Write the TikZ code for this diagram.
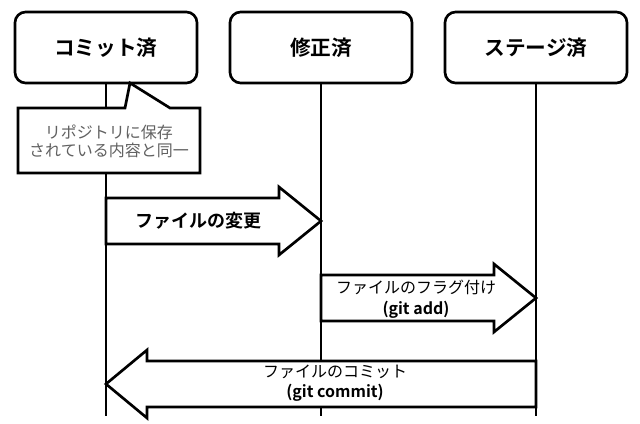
\documentclass[tikz,border=0pt]{standalone}
\usepackage{fontspec}
\setmainfont{Noto Sans CJK JP}[BoldFont={Noto Sans CJK JP Bold}]
\usepackage{tikz}
\usetikzlibrary{calc,positioning}

\tikzset{
	state/.style={draw,line width=2pt,rounded corners=8pt,fill=white,
		minimum width=136.5pt,minimum height=53.25pt,inner sep=0pt,outer sep=0pt,
		font=\bfseries\fontsize{15.5}{18}\selectfont},
	life/.style={line width=2pt},
	note/.style={draw,line width=2pt,fill=white,line join=miter},
	notetext/.style={align=center,text=black!62,inner sep=0pt,
		font=\fontsize{12}{13.5}\selectfont},
	blockarrow/.style={draw,line width=2pt,fill=white,line join=miter},
	lbl/.style={align=center,inner sep=0pt,font=\fontsize{12}{16}\selectfont}
}

\begin{document}
\begin{tikzpicture}[x=0.75pt,y=-0.75pt]
		\useasboundingbox (0,0) rectangle (640,424);
		\node[state] (commit) at (106,47.5) {コミット済};
		\node[state,right=24.75pt of commit] (modified) {修正済};
		\node[state,right=24.75pt of modified] (staged) {ステージ済};
		\coordinate (bottom) at (0,416);
		\foreach \n in {commit,modified,staged}
		\draw[life] (\n.south) -- (\n.south |- bottom);
		% callout
		\draw[note] (18,108) -- (125,108) -- ($(commit.south)+(24,0)$) -- (170,108)
			-- (200,108) -- (200,173) -- (18,173) -- cycle;
		\node[notetext] (same) at (109,141) {リポジトリに保存\\されている内容と同一};
		% change
		\coordinate (c1) at (commit |- 0,221);
		\coordinate (m1) at (modified |- 0,221);
		\draw[blockarrow] ($(c1)+(0,-23)$) -- ($(m1)+(-42,-23)$) -- ($(m1)+(-42,-34)$) -- (m1)
			-- ($(m1)+(-42,34)$) -- ($(m1)+(-42,23)$) -- ($(c1)+(0,23)$) -- cycle;
		\node[lbl,font=\bfseries\fontsize{13.5}{16}\selectfont] (change) at (198,221) {ファイルの変更};
		% git add
		\coordinate (m2) at (modified |- 0,298);
		\coordinate (s2) at (staged |- 0,298);
		\draw[blockarrow] ($(m2)+(0,-23)$) -- ($(s2)+(-42,-23)$) -- ($(s2)+(-42,-34)$) -- (s2)
			-- ($(s2)+(-42,34)$) -- ($(s2)+(-42,23)$) -- ($(m2)+(0,23)$) -- cycle;
		\node[lbl] (flag) at (416,299) {ファイルのフラグ付け\\\textbf{(git add)}};
		% git commit
		\coordinate (s3) at (staged |- 0,384);
		\coordinate (c3) at (commit |- 0,384);
		\draw[blockarrow] ($(s3)+(0,-23)$) -- ($(c3)+(41,-23)$) -- ($(c3)+(41,-34)$) -- (c3)
			-- ($(c3)+(41,34)$) -- ($(c3)+(41,23)$) -- ($(s3)+(0,23)$) -- cycle;
		\node[lbl,font=\fontsize{12}{15}\selectfont] (commitlbl) at (335,383) {ファイルのコミット\\\textbf{(git commit)}};
\end{tikzpicture}
\end{document}
